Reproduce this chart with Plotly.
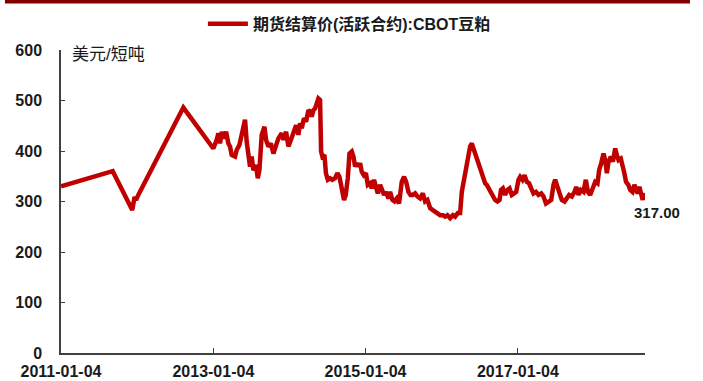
import plotly.graph_objects as go

# CBOT soybean meal, most-active contract settlement price (USD / short ton)
dates = [
    "2011-01-04", "2011-09-09", "2011-12-12", "2011-12-23", "2011-12-30", "2012-01-10",
    "2012-08-13",
    "2013-01-04", "2013-01-20", "2013-01-28", "2013-02-05", "2013-02-13", "2013-02-21",
    "2013-03-06", "2013-03-17", "2013-03-25", "2013-04-02", "2013-04-18", "2013-04-26",
    "2013-05-09", "2013-05-20", "2013-06-05", "2013-06-13", "2013-06-21", "2013-06-29",
    "2013-07-07", "2013-07-15", "2013-07-28", "2013-08-05", "2013-08-13", "2013-08-24",
    "2013-09-06", "2013-09-14", "2013-09-25", "2013-10-07", "2013-10-19", "2013-11-01",
    "2013-11-12", "2013-11-28", "2013-12-06", "2013-12-19", "2013-12-30",
    "2014-01-11", "2014-01-23", "2014-02-05", "2014-02-16", "2014-02-24", "2014-03-04",
    "2014-03-15", "2014-03-25", "2014-04-05", "2014-04-13", "2014-04-21", "2014-04-29",
    "2014-05-07", "2014-05-15", "2014-05-23", "2014-05-31", "2014-06-05", "2014-06-11",
    "2014-06-21", "2014-06-28", "2014-07-07", "2014-07-18", "2014-07-29", "2014-08-11",
    "2014-08-22", "2014-09-01", "2014-09-12", "2014-09-23", "2014-10-01", "2014-10-11",
    "2014-10-19", "2014-10-30", "2014-11-07", "2014-11-15", "2014-11-23", "2014-12-01",
    "2014-12-09", "2014-12-17", "2014-12-27",
    "2015-01-06", "2015-01-15", "2015-01-26", "2015-02-03", "2015-02-14", "2015-02-23",
    "2015-03-04", "2015-03-15", "2015-03-23", "2015-04-03", "2015-04-13", "2015-04-24",
    "2015-05-02", "2015-05-13", "2015-05-23", "2015-06-03", "2015-06-14", "2015-06-27",
    "2015-07-08", "2015-07-18", "2015-07-29", "2015-08-08", "2015-08-19", "2015-08-30",
    "2015-09-10", "2015-09-23", "2015-10-06", "2015-10-17", "2015-10-28", "2015-11-10",
    "2015-11-23", "2015-12-04", "2015-12-15", "2015-12-28",
    "2016-01-10", "2016-01-21", "2016-02-01", "2016-02-14", "2016-02-27", "2016-03-09",
    "2016-03-22", "2016-04-02", "2016-04-10", "2016-04-18", "2016-04-26", "2016-05-04",
    "2016-05-12", "2016-05-20", "2016-05-28", "2016-06-05", "2016-06-13", "2016-06-21",
    "2016-06-29", "2016-07-07", "2016-07-15", "2016-07-23", "2016-07-31", "2016-08-08",
    "2016-08-16", "2016-08-24", "2016-09-01", "2016-09-09", "2016-09-17", "2016-09-28",
    "2016-10-08", "2016-10-15", "2016-10-24", "2016-11-04", "2016-11-15", "2016-11-25",
    "2016-12-06", "2016-12-17", "2016-12-27",
    "2017-01-07", "2017-01-15", "2017-01-26", "2017-02-05", "2017-02-16", "2017-02-27",
    "2017-03-09", "2017-03-20", "2017-04-01", "2017-04-13", "2017-04-26", "2017-05-07",
    "2017-05-19", "2017-05-31", "2017-06-13", "2017-06-24", "2017-07-02", "2017-07-13",
    "2017-07-23", "2017-08-03", "2017-08-16", "2017-08-27", "2017-09-07", "2017-09-20",
    "2017-10-03", "2017-10-11", "2017-10-22", "2017-11-02", "2017-11-15", "2017-11-26",
    "2017-12-06", "2017-12-17", "2017-12-28",
    "2018-01-10", "2018-01-21", "2018-01-29", "2018-02-08", "2018-02-19", "2018-02-27",
    "2018-03-07", "2018-03-15", "2018-03-26", "2018-04-05", "2018-04-16", "2018-04-24",
    "2018-05-02", "2018-05-13", "2018-05-23", "2018-05-30", "2018-06-07", "2018-06-18",
    "2018-06-27", "2018-07-08", "2018-07-17", "2018-07-25", "2018-08-02", "2018-08-10",
    "2018-08-18", "2018-08-26", "2018-09-01",
]

prices = [
    330, 360, 283, 309, 303, 313,
    486,
    405, 422, 435, 415, 438, 425,
    438, 415, 409, 392, 389, 402,
    412, 432, 462, 418, 386, 369,
    389, 362, 372, 346, 362, 432,
    448, 422, 409, 415, 395, 415,
    425, 435, 422, 438, 409,
    422, 438, 451, 432, 455, 445,
    465, 458, 481, 478, 468, 481,
    484, 494, 504, 501, 399, 389,
    392, 356, 343, 346, 343, 346,
    356, 349, 319, 303, 313, 346,
    395, 399, 389, 369, 376, 369,
    376, 359, 352,
    356, 333, 336, 326, 343, 329,
    316, 333, 326, 313, 319, 306,
    319, 303, 300, 306, 296, 339,
    349, 339, 319, 313, 313, 316,
    310, 306, 316, 300, 303, 287,
    283, 280, 277, 273,
    273, 270, 273, 267, 273, 270,
    277, 277, 319, 339, 352, 372,
    392, 409, 415, 405, 399, 389,
    382, 369, 356, 349, 336, 333,
    326, 319, 313, 306, 303, 300,
    303, 323, 326, 313, 323, 326,
    313, 316, 319,
    343, 349, 343, 352, 339, 336,
    326, 316, 319, 313, 316, 310,
    296, 300, 303, 333, 343, 329,
    313, 303, 300, 306, 313, 310,
    319, 329, 313, 323, 319, 343,
    319, 313, 326,
    339, 336, 362, 376, 395, 382,
    356, 379, 389, 379, 405, 392,
    382, 385, 372, 356, 339, 333,
    323, 319, 333, 323, 316, 329,
    319, 303, 317,
]

series_name = "期货结算价(活跃合约):CBOT豆粕"
unit_label = "美元/短吨"
x_tick_dates = ["2011-01-04", "2013-01-04", "2015-01-04", "2017-01-04"]
y_ticks = [0, 100, 200, 300, 400, 500, 600]

LINE_RED = "#C00000"
BAR_RED = "#800000"
AXIS_GREY = "#404040"
FONT = "Liberation Sans, Arial, Noto Sans CJK SC, sans-serif"

fig = go.Figure()
fig.add_trace(go.Scatter(
    x=dates, y=prices, mode="lines", name=series_name,
    line=dict(color=LINE_RED, width=4.5),
))

# closing value label
fig.add_annotation(
    x=dates[-1], y=prices[-1], text=f"{prices[-1]:.2f}",
    showarrow=False, xanchor="center", yanchor="middle",
    xshift=13, yshift=-20,
    font=dict(family=FONT, size=15, color="#1a1a1a", weight="bold"),
)

# unit label in the top-left corner of the plot
fig.add_annotation(
    xref="paper", yref="paper", x=0.015, y=0.985, text=unit_label,
    showarrow=False, xanchor="left", yanchor="middle",
    font=dict(family=FONT, size=17, color="#1a1a1a"),
)

# dark red rule across the top
fig.add_shape(
    type="line", xref="paper", yref="paper",
    x0=-0.096, x1=1.077, y0=1.16, y1=1.16,
    line=dict(color=BAR_RED, width=4),
)

fig.update_layout(
    width=703, height=381,
    margin=dict(l=61, r=58, t=50, b=28, autoexpand=False),
    paper_bgcolor="white", plot_bgcolor="white",
    font=dict(family=FONT, color="#1a1a1a"),
    showlegend=True,
    legend=dict(
        orientation="h", x=0.243, y=1.086, xanchor="left", yanchor="middle",
        font=dict(family=FONT, size=16, color="#1a1a1a", weight="bold"),
        bgcolor="rgba(0,0,0,0)", itemwidth=40,
    ),
    xaxis=dict(
        type="date", automargin=False,
        range=["2011-01-04", "2018-09-06"],
        tickmode="array", tickvals=x_tick_dates, ticktext=x_tick_dates,
        ticks="inside", ticklen=5, tickwidth=1, tickcolor=AXIS_GREY,
        showline=True, linecolor=AXIS_GREY, linewidth=1.5,
        showgrid=False, zeroline=False,
        tickfont=dict(family=FONT, size=16, color="#1a1a1a", weight="bold"),
        ticklabelstandoff=3,
    ),
    yaxis=dict(
        range=[0, 600], automargin=False,
        tickmode="array", tickvals=y_ticks,
        ticks="inside", ticklen=4, tickwidth=1, tickcolor=AXIS_GREY,
        showline=True, linecolor=AXIS_GREY, linewidth=1.5,
        showgrid=False, zeroline=False,
        tickfont=dict(family=FONT, size=16, color="#1a1a1a", weight="bold"),
        ticklabelstandoff=14,
    ),
)

fig.write_html("out.html")
